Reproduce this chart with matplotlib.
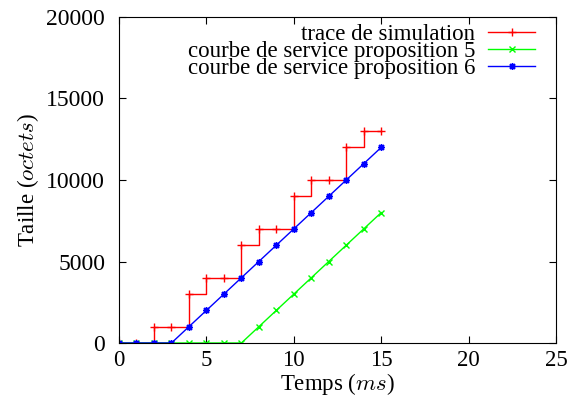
import matplotlib
matplotlib.use("Agg")
import matplotlib.pyplot as plt

plt.rcParams['font.family'] = ['Liberation Serif', 'DejaVu Serif']
plt.rcParams['mathtext.fontset'] = 'cm'

temps = list(range(16))
trace = [0, 0, 1000, 1000, 3000, 4000, 4000, 6000, 7000, 7000,
         9000, 10000, 10000, 12000, 13000, 13000]
prop5 = [0, 0, 0, 0, 0, 0, 0, 0, 1000, 2000, 3000, 4000, 5000, 6000, 7000, 8000]
prop6 = [0, 0, 0, 0, 1000, 2000, 3000, 4000, 5000, 6000,
         7000, 8000, 9000, 10000, 11000, 12000]

fig = plt.figure(figsize=(5.7, 4.03), dpi=100)
ax = fig.add_axes([119/570, 1-343/403, (556-119)/570, (343-17)/403])

ax.plot(temps, trace, color='#ff0000', lw=1, drawstyle='steps-post',
        marker='+', ms=6, mew=1, label='trace de simulation')
ax.plot(temps, prop5, color='#00ff00', lw=1,
        marker='x', ms=5, mew=1, label='courbe de service proposition 5')
ax.plot(temps, prop6, color='#0000ff', lw=1,
        marker=(8, 2, 0), ms=5, mew=1, label='courbe de service proposition 6')

ax.set_xlim(0, 25)
ax.set_ylim(0, 20000)
ax.set_xticks(range(0, 26, 5))
ax.set_yticks(range(0, 20001, 5000))
ax.tick_params(direction='in', top=True, right=True, length=5, width=0.8,
               labelsize=16.5, pad=5)
ax.tick_params(axis='y', labelsize=17, pad=10)
ax.set_xlabel('Temps ($ms$)', fontsize=16.5, labelpad=0)
ax.set_ylabel('Taille ($octets$)', fontsize=16.5, labelpad=4)

leg = ax.legend(loc='upper right', bbox_to_anchor=(0.952, 0.98), frameon=False,
                markerfirst=False, fontsize=16.5, labelspacing=-0.16,
                handlelength=2.05, handletextpad=0.57, borderaxespad=0,
                borderpad=0)

fig.savefig('out.png', dpi=100)
